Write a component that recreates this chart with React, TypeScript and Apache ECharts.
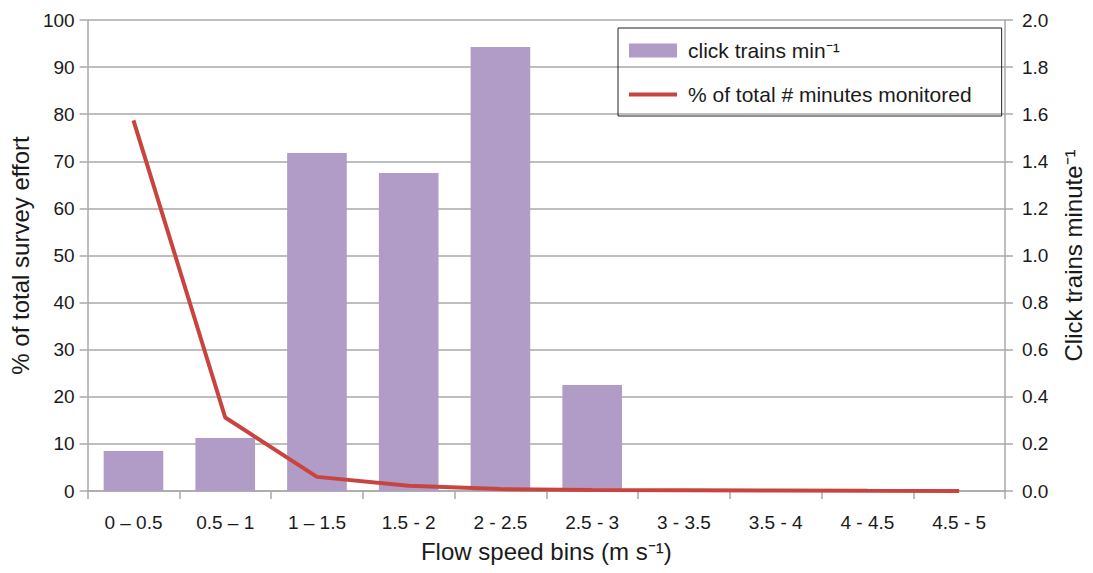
import React, { useEffect, useRef } from "react";
import * as echarts from "echarts";

// Flow speed bins (m s^-1)
const categories = [
  "0 – 0.5",
  "0.5 – 1",
  "1 – 1.5",
  "1.5 - 2",
  "2 - 2.5",
  "2.5 - 3",
  "3 - 3.5",
  "3.5 - 4",
  "4 - 4.5",
  "4.5 - 5",
];

// Click trains per minute (right axis)
const clickTrains = [0.17, 0.225, 1.435, 1.35, 1.885, 0.45, 0, 0, 0, 0];

// % of total minutes monitored (left axis)
const pctMonitored = [78.7, 15.6, 3.0, 1.1, 0.4, 0.2, 0.15, 0.1, 0.05, 0.02];

const leftTicks = { min: 0, max: 100, interval: 10 };
const rightTicks = { min: 0, max: 2, interval: 0.2 };

const FONT = "'Liberation Sans', Arial, Helvetica, sans-serif";
const GRID_GREY = "#a9a9a9";
const BAR_COLOR = "#b09cc7";
const LINE_COLOR = "#c8453f";

export default function App() {
  const ref = useRef<HTMLDivElement>(null);

  useEffect(() => {
    if (!ref.current) return;
    const chart = echarts.init(ref.current, undefined, { renderer: "svg" });

    const axisLabel = { color: "#1a1a1a", fontSize: 19, fontFamily: FONT };
    const nameStyle = { color: "#1a1a1a", fontSize: 24, fontFamily: FONT };

    chart.setOption({
      animation: false,
      backgroundColor: "#ffffff",
      textStyle: { fontFamily: FONT },
      grid: { left: 87, right: 83, top: 20, bottom: 82 },
      legend: {
        orient: "vertical",
        left: 618,
        top: 28,
        padding: [12, 30, 11, 11],
        itemGap: 23,
        itemWidth: 48,
        itemHeight: 14,
        borderColor: "#222",
        borderWidth: 1,
        borderRadius: 0,
        textStyle: { color: "#1a1a1a", fontSize: 21, fontFamily: FONT, padding: [0, 0, 0, 6] },
        data: [
          { name: "click trains min⁻¹", icon: "rect" },
          { name: "% of total # minutes monitored", icon: "path://M0,0 H50 V4 H0 Z" },
        ],
      },
      xAxis: {
        type: "category",
        data: categories,
        boundaryGap: true,
        name: "Flow speed bins (m s⁻¹)",
        nameLocation: "middle",
        nameGap: 48,
        nameTextStyle: nameStyle,
        axisLine: { lineStyle: { color: GRID_GREY, width: 1.5 } },
        axisTick: { show: true, length: 8, lineStyle: { color: GRID_GREY, width: 1.5 } },
        axisLabel: { ...axisLabel, margin: 22 },
      },
      yAxis: [
        {
          type: "value",
          position: "left",
          min: leftTicks.min,
          max: leftTicks.max,
          interval: leftTicks.interval,
          name: "% of total survey effort",
          nameLocation: "middle",
          nameRotate: 90,
          nameGap: 50,
          nameTextStyle: nameStyle,
          axisLine: { show: true, lineStyle: { color: GRID_GREY, width: 1.5 } },
          axisTick: { show: true, length: 8, lineStyle: { color: GRID_GREY, width: 1.5 } },
          axisLabel: { ...axisLabel, margin: 13 },
          splitLine: { show: true, lineStyle: { color: GRID_GREY, width: 1.5 } },
        },
        {
          type: "value",
          position: "right",
          min: rightTicks.min,
          max: rightTicks.max,
          interval: rightTicks.interval,
          name: "Click trains minute⁻¹",
          nameLocation: "middle",
          nameRotate: 90,
          nameGap: 56,
          nameTextStyle: nameStyle,
          axisLine: { show: true, lineStyle: { color: GRID_GREY, width: 1.5 } },
          axisTick: { show: true, length: 8, lineStyle: { color: GRID_GREY, width: 1.5 } },
          axisLabel: {
            ...axisLabel,
            margin: 17,
            formatter: (v: number) => v.toFixed(1),
          },
          splitLine: { show: false },
        },
      ],
      series: [
        {
          name: "click trains min⁻¹",
          type: "bar",
          yAxisIndex: 1,
          data: clickTrains,
          barCategoryGap: "35%",
          itemStyle: { color: BAR_COLOR },
        },
        {
          name: "% of total # minutes monitored",
          type: "line",
          yAxisIndex: 0,
          data: pctMonitored,
          showSymbol: false,
          symbol: "none",
          lineStyle: { color: LINE_COLOR, width: 4 },
          itemStyle: { color: LINE_COLOR },
          z: 3,
        },
      ],
    });

    return () => chart.dispose();
  }, []);

  return (
    <div
      ref={ref}
      style={{ position: "fixed", left: 0, top: 0, width: 1093, height: 573, background: "#fff" }}
    />
  );
}
